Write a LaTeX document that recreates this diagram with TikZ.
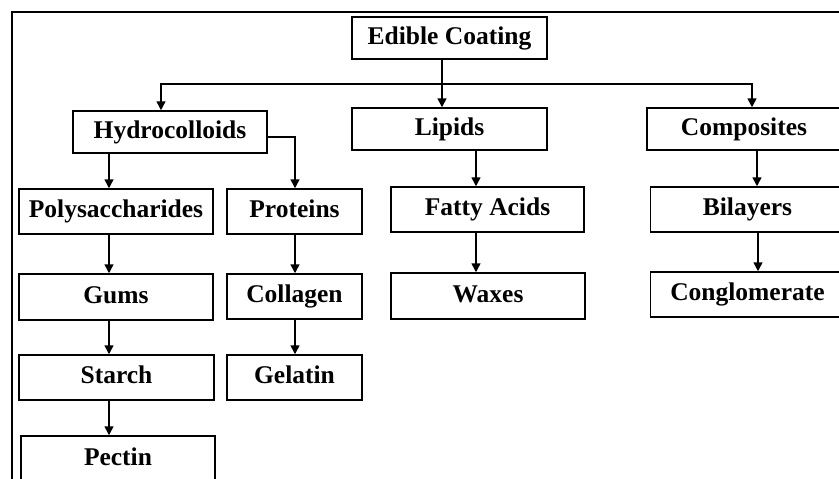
\documentclass[tikz,border=0pt]{standalone}
\usepackage{fontspec}
\setmainfont{Liberation Serif}
\usetikzlibrary{arrows.meta}
\begin{document}
\begin{tikzpicture}[x=1pt,y=-1pt,
  box/.style={draw=black, line width=1.5pt, fill=white, rectangle, inner sep=0pt,
    font=\fontsize{25.5}{29}\selectfont\bfseries, text height=17pt, text depth=5pt},
  arr/.style={draw=black, line width=1.5pt, -{Triangle[width=9pt,length=9pt]}},
  ln/.style={draw=black, line width=1.5pt}]
\useasboundingbox (0,0) rectangle (839,479);
\fill[white] (0,0) rectangle (839,479);
\draw[line width=2pt] (12,500) -- (12,12) -- (860,12);
% nodes
\node[box, minimum width=195pt, minimum height=42pt] (ec) at (449.5,38) {Edible Coating};
\node[box, minimum width=194pt, minimum height=42pt] (hyd) at (170,132) {Hydrocolloids};
\node[box, minimum width=195pt, minimum height=42pt] (lip) at (449.5,129) {Lipids};
\node[box, minimum width=194pt, minimum height=42pt] (comp) at (744,129) {Composites};
\node[box, minimum width=194pt, minimum height=45pt] (poly) at (116,211.5) {Polysaccharides};
\node[box, minimum width=135pt, minimum height=45pt] (prot) at (294.5,211.5) {Proteins};
\node[box, minimum width=193pt, minimum height=45pt] (fat) at (487.5,209.5) {Fatty Acids};
\node[box, minimum width=194pt, minimum height=45pt] (bil) at (747.5,209.5) {Bilayers};
\node[box, minimum width=194pt, minimum height=46pt] (gums) at (116,297) {Gums};
\node[box, minimum width=135pt, minimum height=45pt] (coll) at (294.5,296.5) {Collagen};
\node[box, minimum width=194pt, minimum height=46pt] (wax) at (488,296) {Waxes};
\node[box, minimum width=194pt, minimum height=45pt] (cong) at (747.5,294.5) {Conglomerate};
\node[box, minimum width=195pt, minimum height=45pt] (starch) at (116.5,377.5) {Starch};
\node[box, minimum width=135pt, minimum height=45pt] (gel) at (294.5,377.5) {Gelatin};
\node[box, minimum width=194pt, minimum height=46pt] (pec) at (118,459) {Pectin};
% helper coordinates
\coordinate (xa) at (109,0);
\coordinate (xb) at (295,0);
\coordinate (xc) at (442,0);
\coordinate (xd) at (476,0);
\coordinate (xe) at (757,0);
\coordinate (xf) at (161,0);
\coordinate (xg) at (752,0);
\coordinate (trunk) at (442,84);
\coordinate (hy) at (0,137);
% connectors
\draw[arr] (ec.south -| xc) -- (lip.north -| xc);
\draw[arr] (trunk) -- (trunk -| xf) -- (hyd.north -| xf);
\draw[arr] (trunk) -- (trunk -| xg) -- (comp.north -| xg);
\draw[arr] (hyd.south -| xa) -- (poly.north -| xa);
\draw[arr] (hyd.east |- hy) -- (xb |- hy) -- (prot.north -| xb);
\draw[arr] (lip.south -| xd) -- (fat.north -| xd);
\draw[arr] (comp.south -| xe) -- (bil.north -| xe);
\draw[arr] (poly.south -| xa) -- (gums.north -| xa);
\draw[arr] (prot.south -| xb) -- (coll.north -| xb);
\draw[arr] (fat.south -| xd) -- (wax.north -| xd);
\draw[arr] ([xshift=10.5pt]bil.south) -- ([xshift=10.5pt]cong.north);
\draw[arr] (gums.south -| xa) -- (starch.north -| xa);
\draw[arr] (coll.south -| xb) -- (gel.north -| xb);
\draw[arr] (starch.south -| xa) -- (pec.north -| xa);
\end{tikzpicture}
\end{document}
